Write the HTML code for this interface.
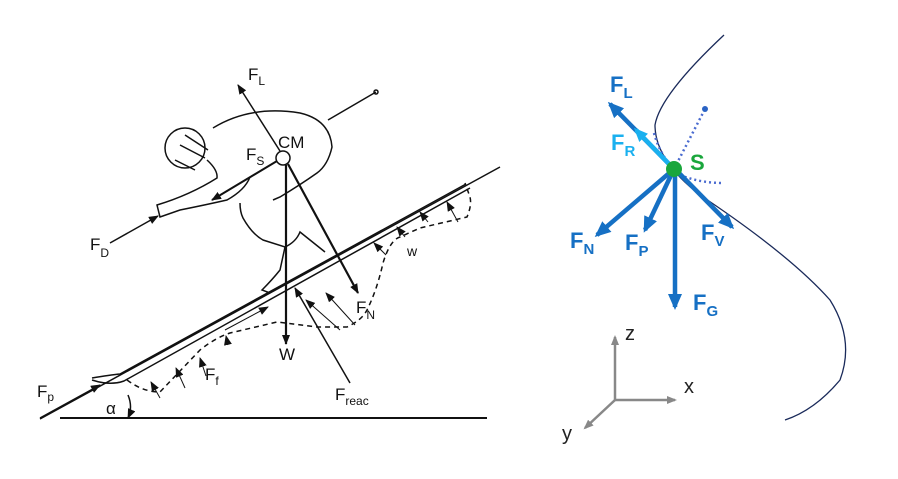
<!DOCTYPE html>
<html><head><style>
body{margin:0;background:#fff}
svg{display:block}
.t{font-family:"Liberation Sans",sans-serif;font-size:17px;fill:#111}
.s{font-size:12px}
.b{font-family:"Liberation Sans",sans-serif;font-weight:bold;font-size:22px;fill:#1670c4}
.bs{font-size:15px}
</style></head><body>
<svg width="898" height="479" viewBox="0 0 898 479">
<defs>
<marker id="a" markerWidth="10" markerHeight="8" refX="9" refY="4" orient="auto" markerUnits="userSpaceOnUse"><path d="M0,0 L10,4 L0,8z" fill="#111"/></marker>
<marker id="bb" markerWidth="16" markerHeight="14" refX="13" refY="7" orient="auto" markerUnits="userSpaceOnUse"><path d="M0,0 L16,7 L0,14z" fill="#1670c4"/></marker>
<marker id="lb" markerWidth="14" markerHeight="12" refX="11" refY="6" orient="auto" markerUnits="userSpaceOnUse"><path d="M0,0 L14,6 L0,12z" fill="#1ab0ef"/></marker>
<marker id="g" markerWidth="10" markerHeight="8" refX="8" refY="4" orient="auto" markerUnits="userSpaceOnUse"><path d="M0,0 L10,4 L0,8z" fill="#888"/></marker>
</defs>
<g stroke="#111" fill="none" stroke-width="1.5">
<line x1="60" y1="418" x2="487" y2="418" stroke-width="2"/>
<line x1="40" y1="419" x2="500" y2="167"/>
<path d="M128,395 Q133,407 128,418" marker-end="url(#a)"/>
<path d="M92,378 Q110,375 120,374 L466,184 M92,380 Q110,386 124,381 L470,188"/>
<path d="M127,380 Q143,392 160,392 L200,350 Q215,338 230,333 L277,322 L317,327 L347,327 Q362,320 367,310 Q377,290 383,263 Q390,240 400,237 L420,228 L467,217 Q472,205 470,197 L465,183" stroke-dasharray="5,4"/>
<g marker-end="url(#a)" stroke-width="1">
<line x1="160" y1="398" x2="151" y2="382"/><line x1="185" y1="388" x2="176" y2="368"/><line x1="206" y1="376" x2="200" y2="358"/>
<line x1="228" y1="345" x2="226" y2="336"/><line x1="355" y1="325" x2="326" y2="293"/><line x1="340" y1="330" x2="306" y2="300"/>
<line x1="386" y1="255" x2="374" y2="243"/><line x1="405" y1="237" x2="397" y2="227"/><line x1="428" y1="222" x2="420" y2="212"/><line x1="458" y1="222" x2="447" y2="202"/>
<line x1="225" y1="330" x2="268" y2="307"/>
</g>
<line x1="40" y1="418" x2="100" y2="385" marker-end="url(#a)"/>
<line x1="110" y1="243" x2="158" y2="216" marker-end="url(#a)"/>
<circle cx="283" cy="158" r="7" fill="#fff"/>
<line x1="280" y1="151" x2="238" y2="85" marker-end="url(#a)"/>
<line x1="328" y1="120" x2="376" y2="92"/><circle cx="376" cy="92" r="2"/>
<line x1="286" y1="165" x2="286" y2="344" stroke-width="2.2" marker-end="url(#a)"/>
<line x1="288" y1="164" x2="358" y2="293" stroke-width="2.2" marker-end="url(#a)"/>
<line x1="350" y1="383" x2="295" y2="288" marker-end="url(#a)"/>
<line x1="277" y1="161" x2="212" y2="200" stroke-width="2" marker-end="url(#a)"/>
<path d="M213,128 Q250,105 300,113 Q330,120 332,147 Q328,165 317,173 Q300,185 280,197 L273,200"/>
<circle cx="185" cy="148" r="20"/>
<path d="M175,160 L195,170 M180,145 L205,158 M185,135 L208,150"/>
<path d="M207,160 Q218,170 217,178 Q190,195 157,205 L160,217 L180,210 Q205,205 227,200 Q245,190 250,177"/>
<path d="M240,203 Q240,212 243,218 Q252,234 263,240 L285,247 Q296,242 300,232 L325,252"/>
<path d="M285,247 L280,270 Q272,280 262,290 L270,293"/>
</g>
<text class="t" x="248" y="80">F<tspan class="s" dy="5">L</tspan></text>
<text class="t" x="278" y="148">CM</text>
<text class="t" x="246" y="160">F<tspan class="s" dy="5">S</tspan></text>
<text class="t" x="90" y="250">F<tspan class="s" dy="7">D</tspan></text>
<text class="t" x="407" y="256" style="font-size:14px">w</text>
<text class="t" x="356" y="313">F<tspan class="s" dy="6">N</tspan></text>
<text class="t" x="279" y="360">W</text>
<text class="t" x="205" y="380">F<tspan class="s" dy="5">f</tspan></text>
<text class="t" x="335" y="400">F<tspan class="s" dy="5">reac</tspan></text>
<text class="t" x="37" y="397">F<tspan class="s" dy="4">p</tspan></text>
<text class="t" x="106" y="414">α</text>
<path d="M724,35 Q660,95 655,125 Q655,160 700,195 Q790,255 830,300 Q855,340 840,380 Q815,410 785,420" stroke="#1a2a5a" stroke-width="1.3" fill="none"/>
<g stroke="#4a6bd0" stroke-width="2.5" stroke-dasharray="2,3" fill="none">
<line x1="674" y1="169" x2="705" y2="109"/>
<path d="M654,133 Q660,155 674,169"/>
<path d="M680,175 Q700,183 723,183"/>
</g>
<circle cx="705" cy="109" r="3" fill="#2a63c4"/>
<g stroke="#1670c4" stroke-width="4.5" fill="none">
<line x1="674" y1="169" x2="610" y2="104" marker-end="url(#bb)"/>
<line x1="674" y1="169" x2="597" y2="235" marker-end="url(#bb)"/>
<line x1="674" y1="169" x2="645" y2="230" marker-end="url(#bb)"/>
<line x1="675" y1="172" x2="675" y2="307" marker-end="url(#bb)"/>
<line x1="678" y1="172" x2="732" y2="227" marker-end="url(#bb)"/>
</g>
<line x1="670" y1="165" x2="636" y2="130" stroke="#1ab0ef" stroke-width="4.5" marker-end="url(#lb)"/>
<circle cx="674" cy="169" r="8" fill="#1aa63c"/>
<text class="b" x="610" y="92">F<tspan class="bs" dy="6">L</tspan></text>
<text class="b" x="611" y="150" style="fill:#1ab0ef">F<tspan class="bs" dy="6">R</tspan></text>
<text class="b" x="690" y="170" style="fill:#1aa63c">S</text>
<text class="b" x="570" y="248">F<tspan class="bs" dy="6">N</tspan></text>
<text class="b" x="625" y="250">F<tspan class="bs" dy="6">P</tspan></text>
<text class="b" x="701" y="240">F<tspan class="bs" dy="6">V</tspan></text>
<text class="b" x="693" y="310">F<tspan class="bs" dy="6">G</tspan></text>
<g stroke="#888" stroke-width="2.5">
<line x1="615" y1="400" x2="615" y2="337" marker-end="url(#g)"/>
<line x1="615" y1="400" x2="675" y2="400" marker-end="url(#g)"/>
<line x1="615" y1="400" x2="585" y2="428" marker-end="url(#g)"/>
</g>
<text x="625" y="340" style="font-family:'Liberation Sans',sans-serif;font-size:20px;fill:#222">z</text>
<text x="684" y="393" style="font-family:'Liberation Sans',sans-serif;font-size:20px;fill:#222">x</text>
<text x="562" y="440" style="font-family:'Liberation Sans',sans-serif;font-size:20px;fill:#222">y</text>
</svg>
</body></html>
